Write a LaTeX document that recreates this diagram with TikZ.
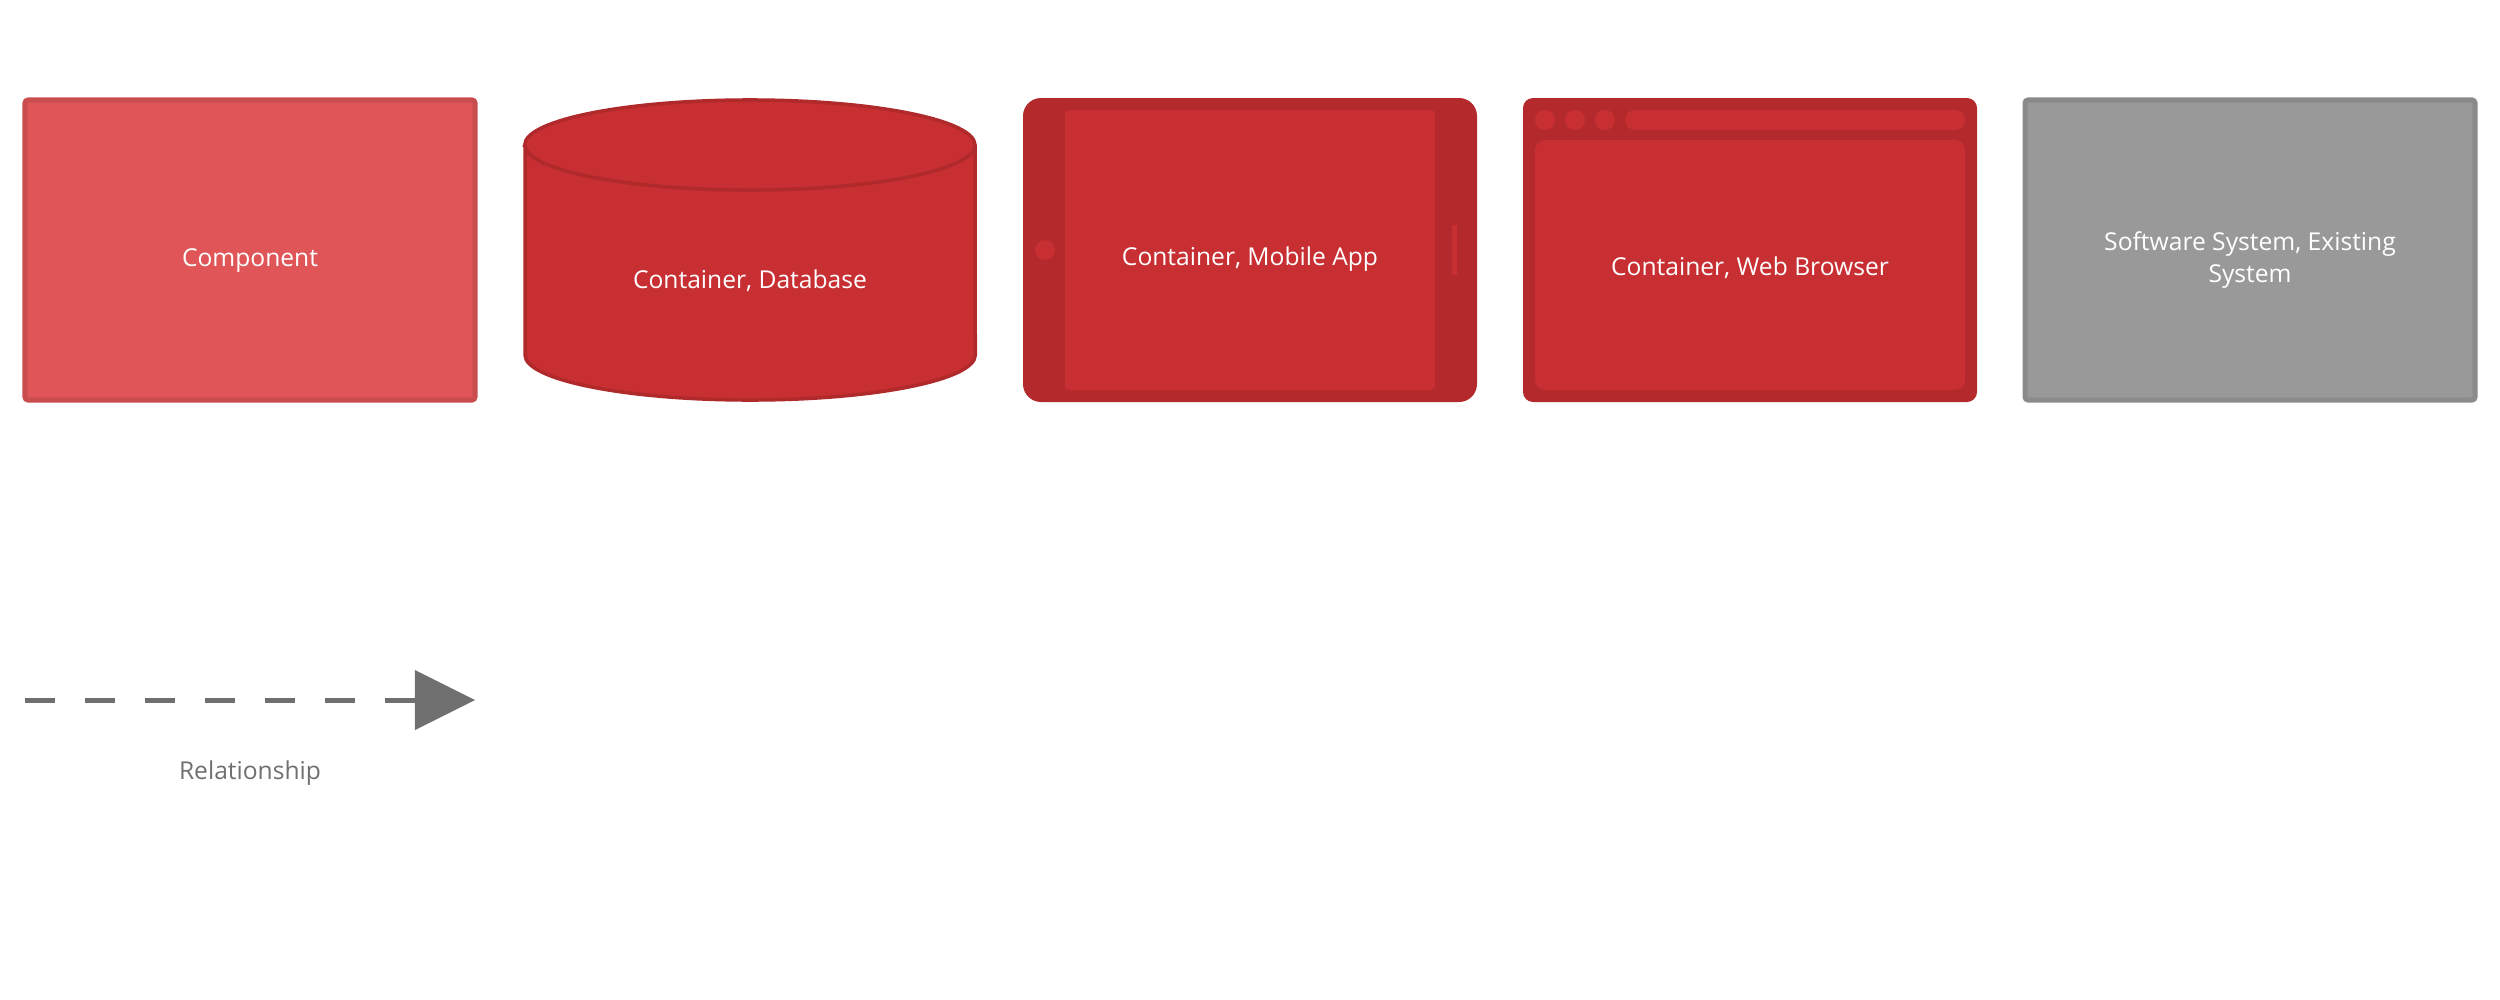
\documentclass[tikz,border=0pt]{standalone}
\usepackage{fontspec}
\setmainfont{Open Sans}
\usetikzlibrary{arrows.meta}
\definecolor{compfill}{HTML}{E05658}
\definecolor{compline}{HTML}{C94D4F}
\definecolor{contfill}{HTML}{C82F32}
\definecolor{contline}{HTML}{B0292B}
\definecolor{frame}{HTML}{B3292C}
\definecolor{sysfill}{HTML}{999999}
\definecolor{sysline}{HTML}{8A8A8A}
\definecolor{relgray}{HTML}{707070}
\tikzset{
  lbl/.style={text=white, font=\fontsize{7pt}{9pt}\selectfont, inner sep=0pt, anchor=base, align=center},
  rellbl/.style={text=relgray, font=\fontsize{7pt}{9pt}\selectfont, inner sep=0pt, anchor=base},
  compbox/.style={fill=compfill, draw=compline, line width=0.05cm, rounded corners=0.03cm},
  sysbox/.style={fill=sysfill, draw=sysline, line width=0.05cm, rounded corners=0.03cm},
  dbshape/.style={fill=contfill, draw=contline, line width=0.035cm},
  framefill/.style={fill=frame},
  screenfill/.style={fill=contfill},
  relline/.style={draw=relgray, line width=0.05cm, dash pattern=on 0.3cm off 0.3cm,
    -{Triangle[length=0.6cm,width=0.6cm,line width=0pt]}}
}
\begin{document}
\begin{tikzpicture}[x=0.01cm,y=-0.01cm]
\useasboundingbox (0,0) rectangle (2500,1000);
\fill[white] (0,0) rectangle (2500,1000);

% Component
\draw[compbox] (25,100) rectangle (475,400);
\node[lbl] (comp) at (250,266) {Component};

% Database
\path[dbshape] (525,145) -- (525,355)
  arc[start angle=180,end angle=360,x radius=2.25cm,y radius=0.45cm]
  -- (975,145)
  arc[start angle=0,end angle=180,x radius=2.25cm,y radius=0.45cm] -- cycle;
\draw[contline, line width=0.035cm] (525,145)
  arc[start angle=180,end angle=360,x radius=2.25cm,y radius=0.45cm];
\node[lbl] (db) at (750,288) {Container, Database};

% Mobile app
\fill[framefill, rounded corners=0.18cm] (1023,98) rectangle (1477,402);
\fill[screenfill, rounded corners=0.04cm] (1065,110) rectangle (1435,390);
\fill[screenfill] (1045,250) circle[radius=0.1cm];
\fill[screenfill] (1452,225) rectangle (1457,275);
\node[lbl] (mob) at (1250,265) {Container, Mobile App};

% Web browser
\fill[framefill, rounded corners=0.1cm] (1523,98) rectangle (1977,402);
\fill[screenfill] (1545,120) circle[radius=0.1cm];
\fill[screenfill] (1575,120) circle[radius=0.1cm];
\fill[screenfill] (1605,120) circle[radius=0.1cm];
\fill[screenfill, rounded corners=0.1cm] (1625,110) rectangle (1965,130);
\fill[screenfill, rounded corners=0.1cm] (1535,140) rectangle (1965,390);
\node[lbl] (web) at (1750,275) {Container, Web Browser};

% Software system
\draw[sysbox] (2025,100) rectangle (2475,400);
\node[lbl] (sys) at (2250,282) {Software System, Existing\\System};

% Relationship
\coordinate (relA) at (25,700);
\coordinate (relB) at (475,700);
\draw[relline] (relA) -- (relB);
\node[rellbl] (rel) at (250,779) {Relationship};
\end{tikzpicture}
\end{document}
